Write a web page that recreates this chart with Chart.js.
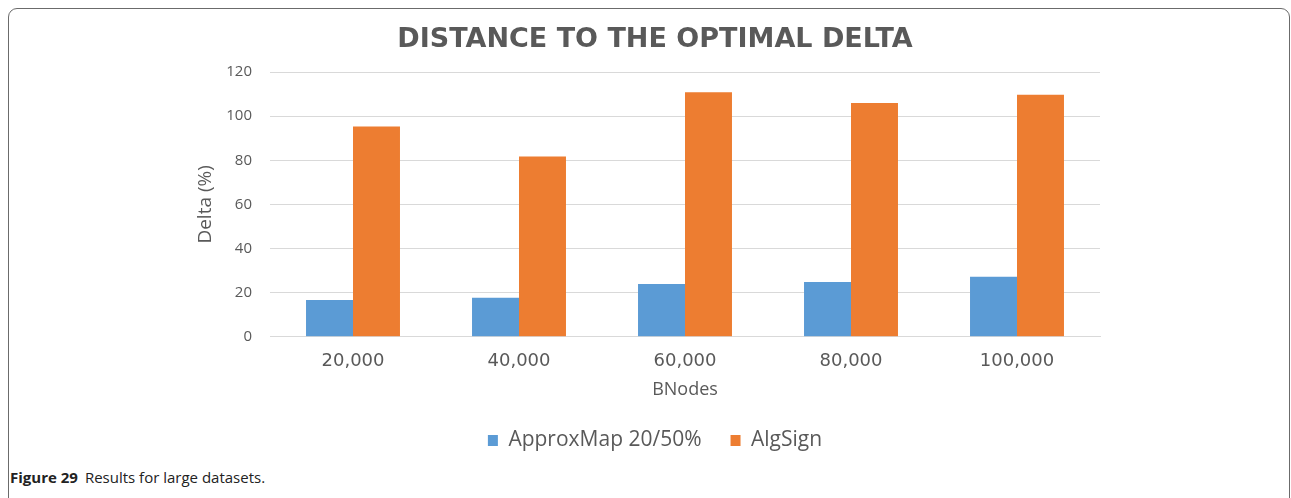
<!DOCTYPE html>
<html>
<head>
<meta charset="utf-8">
<script src="https://cdn.jsdelivr.net/npm/chart.js@4.4.1/dist/chart.umd.min.js"></script>
<style>
  html, body { margin: 0; padding: 0; background: #fff; }
  body { width: 1291px; height: 498px; position: relative; overflow: hidden; }
  .frame {
    position: absolute; left: 8px; top: 8px; width: 1282px; height: 520px;
    border: 1px solid #6b6b6b; border-radius: 9px; box-sizing: border-box;
  }
  .chart-box { position: absolute; left: 20px; top: 14px; width: 1270px; height: 447px; }
  .caption {
    position: absolute; left: 10px; top: 467px;
    font-family: "Open Sans", sans-serif; font-size: 15px; color: #222;
  }
  .caption b { font-weight: 700; margin-right: 7px; }
</style>
</head>
<body>
<div class="frame"></div>
<div class="chart-box"><canvas id="deltaChart"></canvas></div>
<div class="caption"><b>Figure 29</b>Results for large datasets.</div>
<script>
const bnodes = ['20,000', '40,000', '60,000', '80,000', '100,000'];
const approxMap = [16.7, 17.7, 23.9, 24.8, 27.2];
const algSign = [95.3, 81.7, 110.8, 105.9, 109.7];

const gray = '#595959';

const ctx = document.getElementById('deltaChart');

new Chart(ctx, {
  type: 'bar',
  data: {
    labels: bnodes,
    datasets: [
      {
        label: 'ApproxMap 20/50%',
        data: approxMap,
        backgroundColor: '#5b9bd5'
      },
      {
        label: 'AlgSign',
        data: algSign,
        backgroundColor: '#ed7d31'
      }
    ]
  },
  options: {
    responsive: true,
    maintainAspectRatio: false,
    animation: false,
    layout: {
      padding: { left: 190, right: 190, top: 0, bottom: 0 }
    },
    datasets: {
      bar: { categoryPercentage: 0.566, barPercentage: 1.0 }
    },
    plugins: {
      title: {
        display: true,
        text: 'DISTANCE TO THE OPTIMAL DELTA',
        color: gray,
        font: { family: 'DejaVu Sans', size: 27, weight: 'bold' },
        padding: { top: 10, bottom: 15.6 }
      },
      legend: {
        position: 'bottom',
        labels: {
          color: gray,
          font: { family: 'Open Sans', size: 21 },
          boxWidth: 10,
          boxHeight: 11,
          padding: 29
        }
      },
      tooltip: { enabled: false }
    },
    scales: {
      x: {
        grid: { display: false, drawTicks: false },
        border: { color: '#d9d9d9' },
        ticks: {
          color: gray,
          font: { family: 'DejaVu Sans', size: 18 },
          padding: 14
        },
        title: {
          display: true,
          text: 'BNodes',
          color: gray,
          font: { family: 'Open Sans', size: 18 },
          padding: { top: -7, bottom: 0 }
        }
      },
      y: {
        min: 0,
        max: 120,
        afterFit: function(scale) { scale.width = 60; },
        grid: { color: '#d9d9d9', drawTicks: false },
        border: { display: false },
        ticks: {
          stepSize: 20,
          color: gray,
          font: { family: 'Open Sans', size: 15 },
          padding: 18
        },
        title: {
          display: true,
          text: 'Delta (%)',
          color: gray,
          font: { family: 'Open Sans', size: 19 },
          padding: { top: -16, bottom: 0 }
        }
      }
    }
  }
});
</script>
</body>
</html>
